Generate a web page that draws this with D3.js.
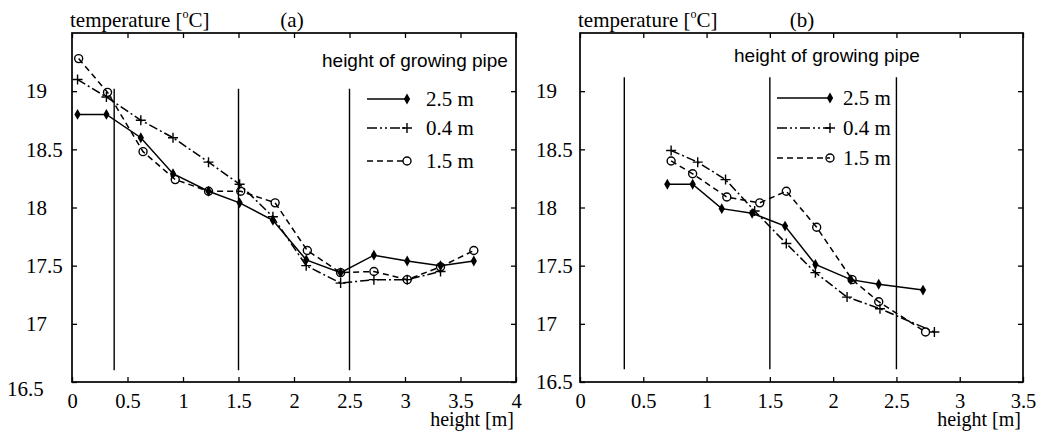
<!DOCTYPE html>
<html>
<head>
<meta charset="utf-8">
<script src="https://cdn.jsdelivr.net/npm/d3@7"></script>
<style>
  body { margin: 0; background: #fff; }
  svg { display: block; }
  .serif { font-family: "Liberation Serif", "Times New Roman", serif; }
  .sans { font-family: "Liberation Sans", Arial, sans-serif; }
</style>
</head>
<body>
<script>
// panel (a)
var aHeights25 = [0.05, 0.31, 0.62, 0.91, 1.23, 1.51, 1.81, 2.11, 2.42, 2.72, 3.02, 3.32, 3.62];
var aTemp25    = [18.8, 18.8, 18.6, 18.29, 18.14, 18.04, 17.89, 17.55, 17.44, 17.59, 17.54, 17.5, 17.54];
var aHeights04 = [0.05, 0.31, 0.62, 0.91, 1.23, 1.51, 1.81, 2.11, 2.42, 2.72, 3.02, 3.32];
var aTemp04    = [19.1, 18.95, 18.75, 18.6, 18.39, 18.2, 17.92, 17.5, 17.35, 17.38, 17.38, 17.45];
var aHeights15 = [0.06, 0.32, 0.64, 0.93, 1.23, 1.52, 1.83, 2.12, 2.42, 2.72, 3.02, 3.32, 3.62];
var aTemp15    = [19.28, 18.99, 18.48, 18.24, 18.14, 18.14, 18.04, 17.63, 17.44, 17.45, 17.38, 17.49, 17.63];
var aPipes     = [0.38, 1.5, 2.5];
var aPipeSpan  = [16.6, 19.02];

// panel (b)
var bHeights25 = [0.69, 0.89, 1.12, 1.36, 1.62, 1.86, 2.14, 2.36, 2.71];
var bTemp25    = [18.2, 18.2, 17.99, 17.95, 17.84, 17.51, 17.38, 17.34, 17.29];
var bHeights04 = [0.72, 0.93, 1.15, 1.38, 1.63, 1.86, 2.11, 2.37, 2.8];
var bTemp04    = [18.49, 18.39, 18.24, 17.97, 17.69, 17.44, 17.23, 17.13, 16.93];
var bHeights15 = [0.72, 0.89, 1.16, 1.42, 1.63, 1.87, 2.15, 2.36, 2.73];
var bTemp15    = [18.4, 18.29, 18.09, 18.04, 18.14, 17.83, 17.38, 17.19, 16.93];
var bPipes     = [0.35, 1.5, 2.5];
var bPipeSpan  = [16.61, 19.12];

var yTicks  = [16.5, 17, 17.5, 18, 18.5, 19];
var aXTicks = [0, 0.5, 1, 1.5, 2, 2.5, 3, 3.5, 4];
var bXTicks = [0, 0.5, 1, 1.5, 2, 2.5, 3, 3.5];
var seriesNames = ["2.5 m", "0.4 m", "1.5 m"];

var svg = d3.select("body").append("svg").attr("width", 1042).attr("height", 431);

var styles = [
  {dash: null, marker: "diamond"},
  {dash: "9,3,2,3", marker: "plus"},
  {dash: "6,4", marker: "circle"}
];

function drawMarker(g, kind, x, y) {
  if (kind == "diamond") {
    g.append("path").attr("transform", "translate(" + x + "," + y + ")")
      .attr("d", d3.symbol().type(d3.symbolDiamond).size(34)()).attr("fill", "#000");
  } else if (kind == "plus") {
    g.append("path").attr("d", "M" + (x - 5) + "," + y + "h10M" + x + "," + (y - 5) + "v10")
      .attr("stroke", "#000").attr("stroke-width", 1.4).attr("fill", "none");
  } else {
    g.append("circle").attr("cx", x).attr("cy", y).attr("r", 4)
      .attr("fill", "none").attr("stroke", "#000").attr("stroke-width", 1.4);
  }
}

function panel(opt) {
  var x = d3.scaleLinear().domain(opt.xDomain).range([opt.left, opt.right]);
  var y = d3.scaleLinear().domain([16.5, 19.5]).range([382, 33]);
  var g = svg.append("g");
  var fmt = function(d) { return String(d); };

  // frame
  g.append("rect").attr("x", opt.left).attr("y", 33)
    .attr("width", opt.right - opt.left).attr("height", 382 - 33)
    .attr("fill", "none").attr("stroke", "#000").attr("stroke-width", 1.7);

  var bottom = g.append("g").attr("transform", "translate(0,382)")
    .call(d3.axisBottom(x).tickValues(opt.xTicks).tickSize(-5).tickPadding(11).tickFormat(fmt));
  var top = g.append("g").attr("transform", "translate(0,33)")
    .call(d3.axisTop(x).tickValues(opt.xTicks).tickSize(-5).tickFormat(""));
  var left = g.append("g").attr("transform", "translate(" + opt.left + ",0)")
    .call(d3.axisLeft(y).tickValues(yTicks).tickSize(-5).tickFormat(fmt));
  var right = g.append("g").attr("transform", "translate(" + opt.right + ",0)")
    .call(d3.axisRight(y).tickValues(yTicks).tickSize(-5).tickFormat(""));

  [bottom, top, left, right].forEach(function(a) {
    a.select(".domain").remove();
    a.selectAll("line").attr("stroke-width", 1.3);
    a.selectAll("text").attr("class", "serif").attr("font-size", 21).attr("font-family", null).attr("fill", "#000");
  });
  bottom.selectAll("text").attr("font-size", 20.5);
  left.selectAll("text").attr("text-anchor", "start")
    .attr("dy", function(d) { return (d == 16.5 && opt.lowLabelDrop) ? "0.62em" : "0.32em"; })
    .attr("x", function(d) { return (d == 16.5 && opt.lowLabelX != null ? opt.lowLabelX : opt.yLabelX) - opt.left; });

  // pipe positions
  g.selectAll(".pipe").data(opt.pipes).enter().append("line")
    .attr("x1", function(d) { return x(d); }).attr("x2", function(d) { return x(d); })
    .attr("y1", y(opt.pipeSpan[0])).attr("y2", y(opt.pipeSpan[1]))
    .attr("stroke", "#000").attr("stroke-width", 1.4);

  // series
  var line = d3.line().x(function(d) { return x(d[0]); }).y(function(d) { return y(d[1]); });
  opt.series.forEach(function(s, i) {
    var pts = d3.zip(s[0], s[1]);
    g.append("path").attr("d", line(pts)).attr("fill", "none")
      .attr("stroke", "#000").attr("stroke-width", 1.5)
      .attr("stroke-dasharray", styles[i].dash);
    pts.forEach(function(p) { drawMarker(g, styles[i].marker, x(p[0]), y(p[1])); });
  });

  // titles
  g.append("text").attr("class", "serif").attr("font-size", 21)
    .attr("x", opt.left - 2).attr("y", 27).text("temperature [")
    .append("tspan").attr("font-size", 12).attr("dy", -9).text("o")
    .select(function() { return this.parentNode; })
    .append("tspan").attr("dy", 9).text("C]");
  g.append("text").attr("class", "serif").attr("font-size", 21)
    .attr("x", opt.tagX).attr("y", 27).attr("text-anchor", "middle").text(opt.tag);
  g.append("text").attr("class", "serif").attr("font-size", 20)
    .attr("x", opt.right - 2).attr("y", 426).attr("text-anchor", "end").text("height [m]");

  // legend
  var lg = opt.legend;
  g.append("text").attr("class", "sans").attr("font-size", 19)
    .attr("x", lg.titleX).attr("y", lg.titleY).text("height of growing pipe");
  seriesNames.forEach(function(name, i) {
    var ly = lg.rows[i];
    g.append("line").attr("x1", lg.x0).attr("x2", lg.x1).attr("y1", ly).attr("y2", ly)
      .attr("stroke", "#000").attr("stroke-width", 1.5)
      .attr("stroke-dasharray", i == 1 ? "10,3,2,3,2,3" : styles[i].dash);
    drawMarker(g, styles[i].marker, lg.x1, ly);
    g.append("text").attr("class", "serif").attr("font-size", 21)
      .attr("x", lg.textX).attr("y", ly + 7).text(name);
  });
}

panel({
  left: 72, right: 516, xDomain: [0, 4], xTicks: aXTicks,
  yLabelX: 26, lowLabelX: 7, lowLabelDrop: true,
  pipes: aPipes, pipeSpan: aPipeSpan, tag: "(a)", tagX: 292,
  series: [[aHeights25, aTemp25], [aHeights04, aTemp04], [aHeights15, aTemp15]],
  legend: {titleX: 322, titleY: 67, rows: [99, 128, 161], x0: 367, x1: 407, textX: 426}
});

panel({
  left: 580, right: 1023, xDomain: [0, 3.5], xTicks: bXTicks,
  yLabelX: 536, lowLabelX: null, lowLabelDrop: false,
  pipes: bPipes, pipeSpan: bPipeSpan, tag: "(b)", tagX: 802,
  series: [[bHeights25, bTemp25], [bHeights04, bTemp04], [bHeights15, bTemp15]],
  legend: {titleX: 734, titleY: 62, rows: [98, 128, 158], x0: 777, x1: 830, textX: 843}
});
</script>
</body>
</html>
